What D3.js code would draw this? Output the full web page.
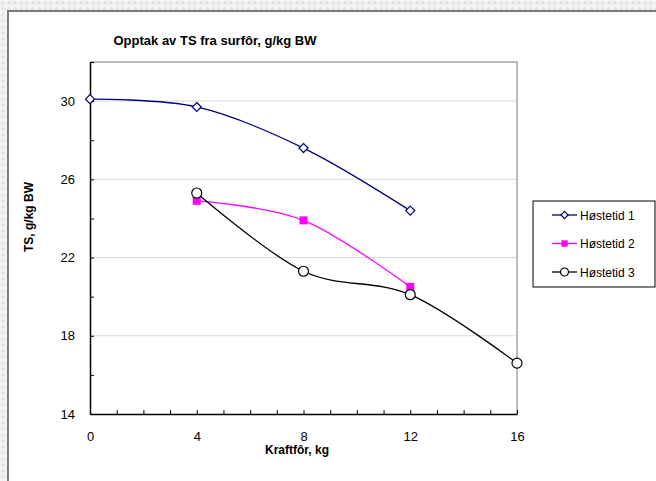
<!DOCTYPE html>
<html>
<head>
<meta charset="utf-8">
<script src="https://cdn.jsdelivr.net/npm/d3@7"></script>
<style>
  body { margin: 0; background: #ffffff; }
  svg text { font-family: "Liberation Sans", Arial, sans-serif; fill: #000; }
</style>
</head>
<body>
<div id="chart"></div>
<script>
'use strict';
// data
const kraftfor1 = [0, 4, 8, 12];
const hostetid1 = [30.1, 29.7, 27.6, 24.4];
const kraftfor2 = [4, 8, 12];
const hostetid2 = [24.9, 23.9, 20.5];
const kraftfor3 = [4, 8, 12, 16];
const hostetid3 = [25.3, 21.3, 20.1, 16.6];
const seriesNames = ["Høstetid 1", "Høstetid 2", "Høstetid 3"];
const xTicks = [0, 4, 8, 12, 16];
const yTicks = [14, 18, 22, 26, 30];

const W = 656, H = 481;
//plot area inside the outer frame
const margin = {left: 90, top: 62, right: 139, bottom: 67};
const width = W - margin.left - margin.right;
const height = H - margin.top - margin.bottom;

const x = d3.scaleLinear().domain([0, 16]).range([0, width]);
const y = d3.scaleLinear().domain([14, 32]).range([height, 0]);

const series = [
    {name: seriesNames[0], xs: kraftfor1, ys: hostetid1, color: "#000080", marker: "diamond"},
    {name: seriesNames[1], xs: kraftfor2, ys: hostetid2, color: "#ff00ff", marker: "square"},
    {name: seriesNames[2], xs: kraftfor3, ys: hostetid3, color: "#000000", marker: "circle"}
];

const svg = d3.select("#chart").append("svg")
    .attr("width", W)
    .attr("height", H);

//dotted grey backdrop outside the chart frame
const pat = svg.append("defs").append("pattern")
    .attr("id", "dots")
    .attr("width", 6).attr("height", 6)
    .attr("patternUnits", "userSpaceOnUse");
pat.append("rect").attr("width", 6).attr("height", 6).attr("fill", "#f3f3f3");
pat.append("circle").attr("cx", 3).attr("cy", 3).attr("r", 2).attr("fill", "#e4e4e4");
svg.append("rect").attr("width", W).attr("height", H).attr("fill", "url(#dots)");

//chart frame
svg.append("rect")
    .attr("x", 8).attr("y", 11)
    .attr("width", W).attr("height", H)
    .attr("fill", "#fff")
    .attr("stroke", "#7a7a7a")
    .attr("stroke-width", 2);

svg.append("text")
    .attr("x", 215).attr("y", 45)
    .attr("text-anchor", "middle")
    .style("font-size", "13px")
    .style("font-weight", "bold")
    .text("Opptak av TS fra surfôr, g/kg BW");

const g = svg.append("g")
    .attr("transform", "translate(" + margin.left + "," + margin.top + ")");

//horizontal grid lines
g.append("g").selectAll("line")
    .data(yTicks.filter(function(d) { return d > 14; }))
    .join("line")
    .attr("x1", 0).attr("x2", width)
    .attr("y1", function(d) { return y(d); })
    .attr("y2", function(d) { return y(d); })
    .attr("stroke", "#d9d9d9");

//top and right border of plot area
g.append("path")
    .attr("d", "M0," + y(32) + "H" + x(16) + "V" + y(14))
    .attr("fill", "none")
    .attr("stroke", "#a6a6a6")
    .attr("stroke-width", 1.5);

// x axis at bottom
const xAxis = g.append("g")
    .attr("transform", "translate(0," + height + ")")
    .call(d3.axisBottom(x).tickValues(d3.range(0, 17, 1)).tickSize(-4).tickSizeOuter(0)
        .tickFormat(function(d) { return xTicks.indexOf(d) >= 0 ? d : ""; }));
xAxis.select(".domain").attr("stroke", "#000").attr("stroke-width", 1.5);
xAxis.selectAll(".tick text").attr("y", 18).style("font-size", "13px").style("font-family", "Liberation Sans, Arial, sans-serif");

// y axis on left
const yAxis = g.append("g")
    .call(d3.axisLeft(y).tickValues(d3.range(14, 33, 2)).tickSize(-4).tickSizeOuter(0)
        .tickFormat(function(d) { return yTicks.indexOf(d) >= 0 ? d : ""; }));
yAxis.select(".domain").attr("stroke", "#000").attr("stroke-width", 1.5);
yAxis.selectAll(".tick text").attr("x", -15).style("font-size", "13px").style("font-family", "Liberation Sans, Arial, sans-serif");

//axis titles
svg.append("text")
    .attr("x", 297).attr("y", 454)
    .attr("text-anchor", "middle")
    .style("font-size", "12px")
    .style("font-weight", "bold")
    .text("Kraftfôr, kg");
svg.append("text")
    .attr("transform", "translate(33,217) rotate(-90)")
    .attr("text-anchor", "middle")
    .style("font-size", "12px")
    .style("font-weight", "bold")
    .text("TS, g/kg BW");

//smoothed lines like the spreadsheet
const line = d3.line()
    .x(function(d) { return x(d[0]); })
    .y(function(d) { return y(d[1]); })
    .curve(d3.curveCardinal.tension(0));

function drawMarker(sel, type, color, k) {
    if (type === "diamond") {
        sel.append("path").attr("d", "M0,-4.5L4.5,0L0,4.5L-4.5,0Z")
            .attr("transform", "scale(" + k + ")")
            .attr("fill", "#fff").attr("stroke", color).attr("stroke-width", 1.2 / k);
    } else if (type === "square") {
        sel.append("rect").attr("x", -4 * k).attr("y", -4 * k).attr("width", 8 * k).attr("height", 8 * k)
            .attr("fill", color);
    } else {
        sel.append("circle").attr("r", 5 * k)
            .attr("fill", "#fff").attr("stroke", color).attr("stroke-width", 1.2);
    }
}

series.forEach(function(s) {
    const pts = s.xs.map(function(v, i) { return [v, s.ys[i]]; });
    g.append("path")
        .datum(pts)
        .attr("fill", "none")
        .attr("stroke", s.color)
        .attr("stroke-width", 1.3)
        .attr("d", line);
    pts.forEach(function(p) {
        const m = g.append("g").attr("transform", "translate(" + x(p[0]) + "," + y(p[1]) + ")");
        drawMarker(m, s.marker, s.color, 1);
    });
});

//legend box
const leg = svg.append("g").attr("transform", "translate(533,201)");
leg.append("rect")
    .attr("width", 122).attr("height", 86)
    .attr("fill", "#fff")
    .attr("stroke", "#000");
series.forEach(function(s, i) {
    const row = leg.append("g").attr("transform", "translate(0," + (14 + i * 28.5) + ")");
    row.append("line")
        .attr("x1", 19).attr("x2", 44)
        .attr("stroke", s.color).attr("stroke-width", 1.3);
    const m = row.append("g").attr("transform", "translate(31.5,0)");
    drawMarker(m, s.marker, s.color, 0.8);
    row.append("text")
        .attr("x", 47).attr("y", 4.5)
        .style("font-size", "12px")
        .text(s.name);
});
</script>
</body>
</html>
